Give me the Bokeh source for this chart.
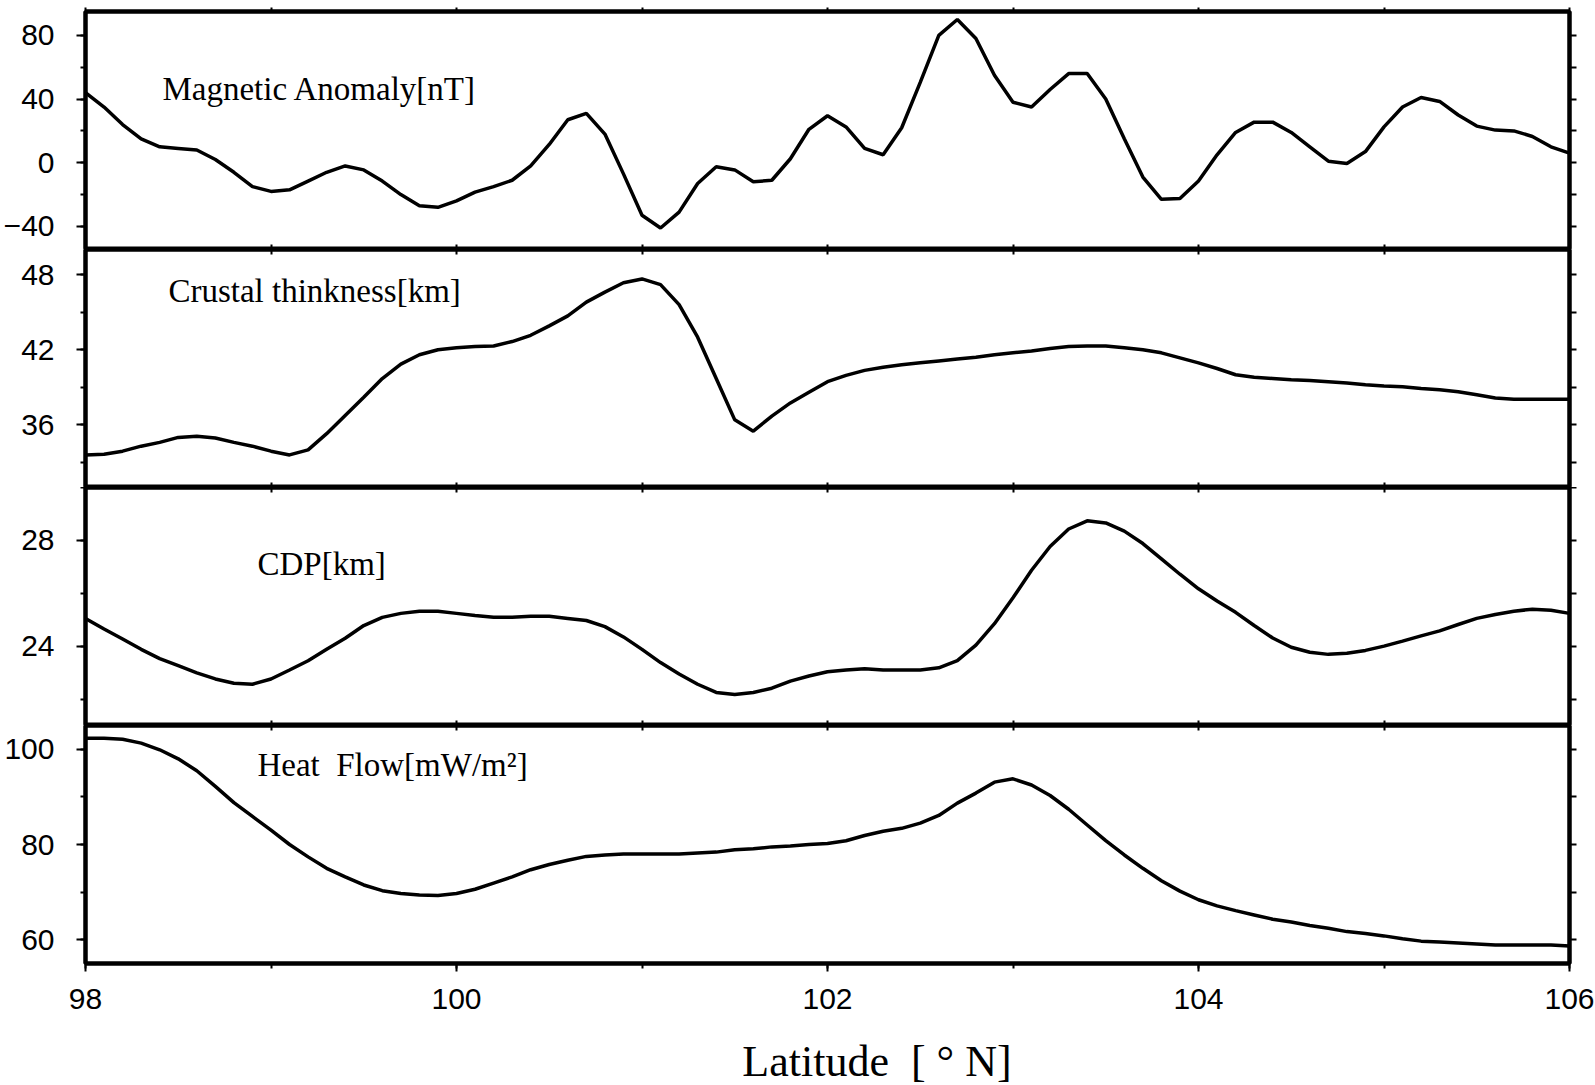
from bokeh.plotting import figure
from bokeh.layouts import column
from bokeh.models import Range1d, LinearAxis, SingleIntervalTicker, Label
from bokeh.embed import file_html
from bokeh.resources import INLINE

# ---------------- data ----------------
lat = [round(98 + 0.1 * i, 1) for i in range(81)]

magnetic = [44, 35, 24, 15, 10, 9, 8, 2, -6, -15, -18,
            -17, -11.5, -6, -2, -4.5, -11.5, -20, -27, -28, -24,
            -18.5, -15, -11, -2, 11.5, 27, 31, 18, -7, -33,
            -41, -31, -13, -2.5, -4.5, -12, -11, 2.5, 21, 29.5,
            22.5, 9, 5, 22, 50.5, 80, 90, 78, 55, 38,
            35, 46, 56, 56, 40, 15, -9, -23, -22.5, -11.5,
            5, 19, 25.5, 25.5, 19, 10, 1, -0.5, 7, 22.5,
            35, 41, 38.5, 30, 23, 20.5, 20, 16.5, 10, 6]

crustal = [33.6, 33.65, 33.9, 34.3, 34.6, 35.0, 35.1, 34.95, 34.6, 34.3, 33.9,
           33.6, 34.0, 35.3, 36.75, 38.2, 39.7, 40.85, 41.6, 42.0, 42.15,
           42.25, 42.3, 42.65, 43.15, 43.9, 44.7, 45.8, 46.6, 47.35, 47.65,
           47.2, 45.6, 43.0, 39.7, 36.4, 35.5, 36.7, 37.75, 38.6, 39.45,
           39.95, 40.35, 40.6, 40.8, 40.95, 41.1, 41.25, 41.4, 41.6, 41.75,
           41.9, 42.1, 42.25, 42.3, 42.3, 42.15, 42.0, 41.75, 41.35, 40.95,
           40.5, 40.0, 39.8, 39.7, 39.6, 39.55, 39.45, 39.35, 39.2, 39.1,
           39.05, 38.9, 38.8, 38.65, 38.4, 38.15, 38.05, 38.05, 38.05, 38.05]

cdp = [25.05, 24.65, 24.27, 23.88, 23.53, 23.26, 22.99, 22.76, 22.6, 22.56, 22.76,
       23.1, 23.45, 23.88, 24.3, 24.78, 25.09, 25.24, 25.32, 25.32, 25.24,
       25.16, 25.09, 25.09, 25.13, 25.13, 25.05, 24.97, 24.74, 24.35, 23.88,
       23.38, 22.95, 22.56, 22.25, 22.17, 22.25, 22.41, 22.68, 22.87, 23.03,
       23.1, 23.15, 23.1, 23.1, 23.1, 23.18, 23.45, 24.04, 24.85, 25.83,
       26.87, 27.77, 28.43, 28.74, 28.66, 28.35, 27.88, 27.3, 26.72, 26.17,
       25.71, 25.28, 24.78, 24.31, 23.96, 23.77, 23.69, 23.73, 23.84, 24.0,
       24.19, 24.39, 24.58, 24.82, 25.05, 25.2, 25.32, 25.4, 25.36, 25.24]

heat_flow = [102.3, 102.3, 102.1, 101.3, 99.9, 98.0, 95.5, 92.2, 88.8, 85.9, 83.0,
             80.0, 77.4, 75.0, 73.2, 71.5, 70.3, 69.7, 69.4, 69.3, 69.7,
             70.6, 71.9, 73.2, 74.7, 75.8, 76.7, 77.5, 77.8, 78.0, 78.0,
             78.0, 78.0, 78.2, 78.4, 78.9, 79.1, 79.5, 79.7, 80.0, 80.2,
             80.8, 81.9, 82.8, 83.4, 84.5, 86.1, 88.7, 90.8, 93.1, 93.8,
             92.5, 90.3, 87.4, 84.1, 80.8, 77.8, 75.0, 72.4, 70.2, 68.4,
             67.1, 66.1, 65.2, 64.3, 63.7, 63.0, 62.4, 61.7, 61.3, 60.8,
             60.2, 59.7, 59.5, 59.3, 59.1, 58.9, 58.9, 58.9, 58.9, 58.7]

titles = ["Magnetic Anomaly[nT]", "Crustal thinkness[km]", "CDP[km]",
          "Heat\u00a0\u00a0Flow[mW/m\u00b2]"]
series = [magnetic, crustal, cdp, heat_flow]
y_limits = [(-54.5, 95), (31, 50), (21, 30), (55, 105)]
major_step = [40, 6, 4, 20]
title_pos = [(98.415, 46.5), (98.447, 46.7), (98.927, 27.1), (98.927, 96.8)]
x_limits = (98, 106)
x_label = "\u00a0" * 9 + "Latitude\u00a0\u00a0[\u00a0\u00b0\u00a0N]"

TICK_FONT = "Liberation Sans"
SERIF = "Liberation Serif"

xr = Range1d(*x_limits)


def hidden_axis(ticker, tin, tout):
    return LinearAxis(ticker=ticker, major_tick_in=tin, major_tick_out=tout,
                      minor_tick_in=0, minor_tick_out=0,
                      major_label_text_color=None, major_label_standoff=0,
                      axis_line_width=4, axis_line_color="black",
                      major_tick_line_width=2, major_tick_line_color="black")


figs = []
n = len(series)
for i in range(n):
    first = i == 0
    last = i == n - 1
    p = figure(x_range=xr, y_range=Range1d(*y_limits[i]),
               frame_width=1484, frame_height=238,
               output_backend="svg", toolbar_location=None,
               x_axis_location=None, y_axis_location=None,
               min_border_left=85, min_border_right=26,
               min_border_top=11 if first else 0,
               min_border_bottom=122 if last else 0,
               background_fill_color="white", border_fill_color="white",
               outline_line_color="black", outline_line_width=4)
    p.grid.grid_line_color = None

    # left axis with labels
    left = LinearAxis(ticker=SingleIntervalTicker(interval=major_step[i], num_minor_ticks=2),
                      major_tick_in=0, major_tick_out=9,
                      minor_tick_in=0, minor_tick_out=5,
                      major_tick_line_width=2, minor_tick_line_width=2,
                      axis_line_width=4,
                      major_label_text_font=TICK_FONT,
                      major_label_text_font_size="30px",
                      major_label_text_color="black",
                      major_label_standoff=22)
    if i == 0:
        left.major_label_overrides = {-40: "\u221240"}
    p.add_layout(left, "left")

    # right axis: ticks only
    p.add_layout(hidden_axis(SingleIntervalTicker(interval=major_step[i] / 2, num_minor_ticks=0), 0, 7), "right")

    # top axis: ticks every degree
    if first:
        p.add_layout(hidden_axis(SingleIntervalTicker(interval=1, num_minor_ticks=0), 0, 4), "above")
    else:
        p.add_layout(hidden_axis(SingleIntervalTicker(interval=1, num_minor_ticks=0), 5, 0), "above")

    if not last:
        p.add_layout(hidden_axis(SingleIntervalTicker(interval=1, num_minor_ticks=0), 5, 0), "below")
    else:
        bottom = LinearAxis(ticker=SingleIntervalTicker(interval=2, num_minor_ticks=2),
                            major_tick_in=0, major_tick_out=8,
                            minor_tick_in=0, minor_tick_out=5,
                            major_tick_line_width=2, minor_tick_line_width=2,
                            axis_line_width=4,
                            major_label_text_font=TICK_FONT,
                            major_label_text_font_size="30px",
                            major_label_text_color="black",
                            major_label_standoff=17,
                            axis_label=x_label,
                            axis_label_text_font=SERIF,
                            axis_label_text_font_size="44px",
                            axis_label_text_font_style="normal",
                            axis_label_text_color="black",
                            axis_label_standoff=25)
        p.add_layout(bottom, "below")

    p.line(lat, series[i], line_color="black", line_width=3.5)

    tx, ty = title_pos[i]
    p.add_layout(Label(x=tx, y=ty, text=titles[i], text_align="left",
                       text_baseline="middle", text_font=SERIF,
                       text_font_size="33px", text_color="black"))
    figs.append(p)

layout = column(*figs, spacing=0)

open("out.html", "w").write(file_html(layout, INLINE))
